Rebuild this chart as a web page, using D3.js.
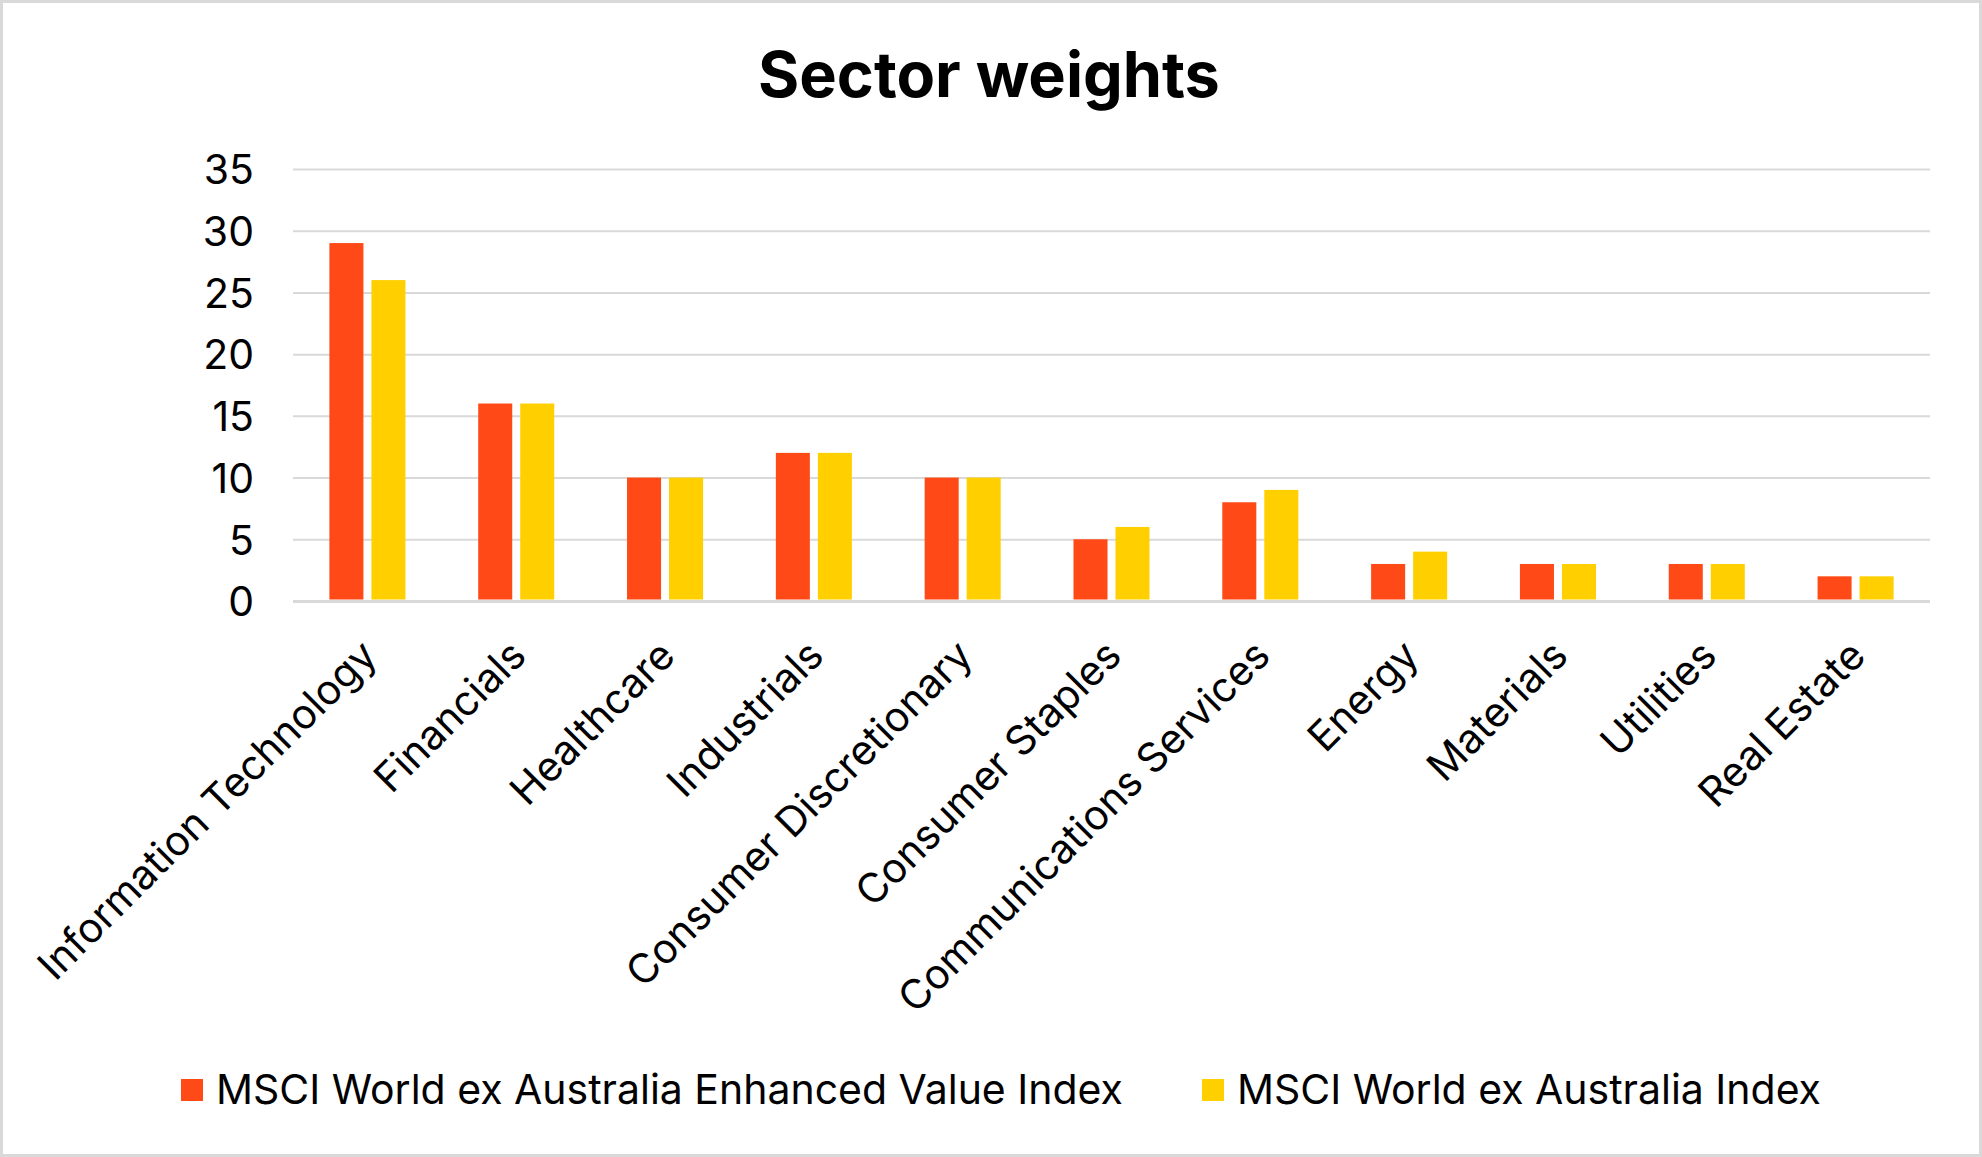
<!DOCTYPE html>
<html>
<head>
<meta charset="utf-8">
<script src="https://cdn.jsdelivr.net/npm/d3@7"></script>
<style>
  html, body { margin: 0; padding: 0; background: #ffffff; }
  svg { display: block; }
  text { font-family: "Inter", "Roboto", "DejaVu Sans", sans-serif; fill: #000000; }
</style>
</head>
<body>
<svg id="chart" width="1982" height="1157"></svg>
<script>
const titleText = "Sector weights";
const categories = [
  "Information Technology", "Financials", "Healthcare", "Industrials",
  "Consumer Discretionary", "Consumer Staples", "Communications Services",
  "Energy", "Materials", "Utilities", "Real Estate"
];
const seriesNames = [
  "MSCI World ex Australia Enhanced Value Index",
  "MSCI World ex Australia Index"
];
const enhancedValues = [29, 16, 10, 12, 10, 5, 8, 3, 3, 3, 2];
const indexValues    = [26, 16, 10, 12, 10, 6, 9, 4, 3, 3, 2];
const yTicks = [0, 5, 10, 15, 20, 25, 30, 35];
const seriesColors = ["#ff4a17", "#ffcf00"];

const W = 1982, H = 1157;
const svg = d3.select("#chart");

// frame
svg.append("rect")
  .attr("x", 1.5).attr("y", 1.5)
  .attr("width", W - 3).attr("height", H - 3)
  .attr("fill", "#ffffff").attr("stroke", "#d9d9d9").attr("stroke-width", 3);

const plot = { left: 293, right: 1930, top: 169, bottom: 601 };

const x = d3.scaleBand().domain(categories).range([plot.left, plot.right]).paddingInner(0).paddingOuter(0);
const groupW = x.bandwidth() * 0.511;
const xInner = d3.scaleBand().domain(seriesNames).range([-groupW / 2, groupW / 2]).paddingInner(0.19);
const y = d3.scaleLinear().domain([0, 35]).range([plot.bottom, plot.top]);

// font fitting from legend width
const probe = svg.append("text").attr("font-size", 40).text(seriesNames[0]);
const baseW = probe.node().getComputedTextLength();
probe.remove();
const fs = 40 * 907 / baseW;

// gridlines via axis
const grid = svg.append("g")
  .attr("transform", `translate(${plot.left},0)`)
  .call(d3.axisLeft(y).tickValues(yTicks).tickSize(-(plot.right - plot.left)).tickFormat(""));
grid.select(".domain").remove();
grid.selectAll(".tick line")
  .attr("stroke", "#d9d9d9")
  .attr("stroke-width", d => d === 0 ? 3 : 2);

// y tick labels
const yAxis = svg.append("g")
  .attr("transform", `translate(254,0)`)
  .call(d3.axisLeft(y).tickValues(yTicks).tickSize(0).tickPadding(0).tickFormat(d3.format("d")));
yAxis.select(".domain").remove();
yAxis.selectAll(".tick text")
  .attr("font-size", fs)
  .attr("font-family", "Inter, Roboto, sans-serif")
  .attr("fill", "#000")
  .attr("dy", "0.36em")
  .attr("x", 0);

// bars
const seriesData = [enhancedValues, indexValues];
const groups = svg.append("g").selectAll("g")
  .data(categories).join("g")
  .attr("transform", d => `translate(${x(d) + x.bandwidth() / 2},0)`);
groups.selectAll("rect")
  .data((d, i) => seriesNames.map((s, k) => ({ s, v: seriesData[k][i], c: seriesColors[k] })))
  .join("rect")
  .attr("x", d => xInner(d.s))
  .attr("width", xInner.bandwidth())
  .attr("y", d => y(d.v))
  .attr("height", d => y(0) - y(d.v) - 1.5)
  .attr("fill", d => d.c);

// category labels
const xAxis = svg.append("g")
  .attr("transform", `translate(0,${plot.bottom})`)
  .call(d3.axisBottom(x).tickSize(0).tickPadding(0));
xAxis.select(".domain").remove();
xAxis.selectAll(".tick text")
  .attr("font-size", fs)
  .attr("font-family", "Inter, Roboto, sans-serif")
  .attr("fill", "#000")
  .attr("text-anchor", "end")
  .attr("dy", 0)
  .attr("y", 0)
  .attr("transform", "translate(12,57) rotate(-45)");

// title
const title = svg.append("text")
  .attr("x", 989).attr("y", 97)
  .attr("text-anchor", "middle")
  .attr("font-weight", 700)
  .attr("font-size", 52)
  .text(titleText);
const tW = title.node().getComputedTextLength();
title.attr("font-size", 52 * 462 / tW);

// legend
const legendItems = [
  { name: seriesNames[0], color: seriesColors[0], mx: 181, tx: 216 },
  { name: seriesNames[1], color: seriesColors[1], mx: 1202, tx: 1237 }
];
const lg = svg.append("g");
lg.selectAll("rect").data(legendItems).join("rect")
  .attr("x", d => d.mx).attr("y", 1079)
  .attr("width", 22).attr("height", 22)
  .attr("fill", d => d.color);
lg.selectAll("text").data(legendItems).join("text")
  .attr("x", d => d.tx).attr("y", 1104)
  .attr("font-size", fs)
  .text(d => d.name);
</script>
</body>
</html>
